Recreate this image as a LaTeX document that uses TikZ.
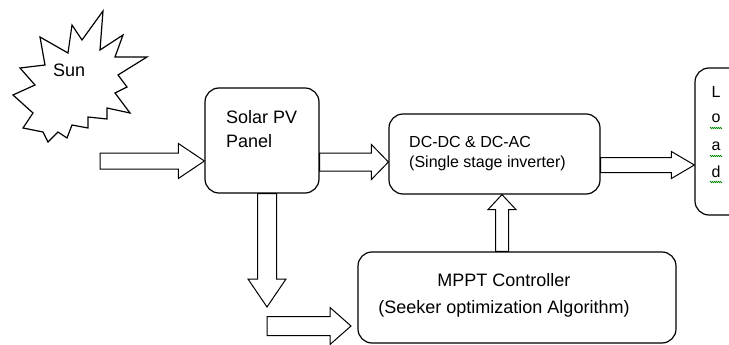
\documentclass[tikz,border=0pt]{standalone}
\usepackage{fontspec}
\setmainfont{Liberation Sans}
\usetikzlibrary{calc,decorations.pathmorphing}
\newcommand\blockarr[5]{% #1 from, #2 to, #3 half shaft, #4 half head, #5 head length
  \coordinate (tmpH) at ($(#2)!#5!(#1)$);
  \draw[barr] ($(#1)!#3!90:(#2)$) -- ($(tmpH)!#3!-90:(#1)$) -- ($(tmpH)!#4!-90:(#1)$)
    -- (#2) -- ($(tmpH)!#4!90:(#1)$) -- ($(tmpH)!#3!90:(#1)$) -- ($(#1)!#3!-90:(#2)$) -- cycle;}
\begin{document}
\begin{tikzpicture}[x=1pt,y=-1pt,
  box/.style={draw=black, line width=1.2pt, rounded corners=14pt, fill=white, inner sep=0pt},
  barr/.style={draw=black, line width=1pt, fill=white, line join=miter},
  txt/.style={inner sep=0pt, font=\fontsize{18}{20}\selectfont},
  txts/.style={inner sep=0pt, font=\fontsize{16}{18}\selectfont},
  squig/.style={draw=green!55!black, line width=0.6pt, decorate,
    decoration={zigzag, segment length=2pt, amplitude=0.7pt}}]
\clip (0,0) rectangle (729,345);
\fill[white] (0,0) rectangle (729,345);

% Sun
\draw[line width=1.2pt, line join=miter, fill=white]
  (103,11) -- (100,50) -- (123,35) -- (115,57) -- (147,57) -- (118,75) -- (127,87)
  -- (115,93) -- (130,113) -- (107,108) -- (107,119) -- (88,117) -- (88,128)
  -- (72,125) -- (67,138) -- (58,132) -- (48,142) -- (43,132) -- (23,128)
  -- (33,113) -- (13,95) -- (35,85) -- (20,68) -- (45,65) -- (40,37) -- (68,53)
  -- (72,25) -- (82,40) -- cycle;
\node[txt, anchor=base west] (sun) at (53,77) {Sun};

% boxes
\node[box, minimum width=114pt, minimum height=105pt] (pv) at (262,140.5) {};
\node[box, minimum width=211pt, minimum height=80pt] (dc) at (494.5,154) {};
\node[box, minimum width=318pt, minimum height=91pt] (mppt) at (517,297.5) {};
\node[box, minimum width=65pt, minimum height=147pt] (load) at (727.5,141.5) {};

% texts
\node[txt, anchor=base west] (pvt1) at (226,124) {Solar PV};
\node[txt, anchor=base west] (pvt2) at (226,147) {Panel};
\node[txts, anchor=base west] (dct1) at (409,147) {DC-DC \& DC-AC};
\node[txts, anchor=base west] (dct2) at (409,167) {(Single stage inverter)};
\node[txt, anchor=base] (mpt1) at (504,286) {MPPT Controller};
\node[txt, anchor=base] (mpt2) at (504,313) {(Seeker optimization Algorithm)};
\node[txts, anchor=base] (lL) at (716,98) {L};
\node[txts, anchor=base] (lo) at (716,123) {o};
\node[txts, anchor=base] (la) at (716,150) {a};
\node[txts, anchor=base] (ld) at (716,177) {d};
\draw[squig] (710,128) -- (722,128);
\draw[squig] (710,156) -- (722,156);
\draw[squig] (710,182) -- (722,182);

% arrow anchors
\coordinate (in1) at (100,161);
\coordinate (a2) at (0,162);
\coordinate (a3) at (0,165);
\coordinate (a4) at (502,0);
\coordinate (a5) at (267,0);
\coordinate (dn) at (267,307);
\coordinate (in6) at (267,326);
\coordinate (tip6) at (351,326);

% block arrows
\blockarr{in1}{in1 -| pv.west}{8pt}{17.5pt}{26pt}
\blockarr{a2 -| pv.east}{a2 -| dc.west}{9pt}{17.5pt}{17pt}
\blockarr{a3 -| dc.east}{a3 -| load.west}{7.5pt}{13.5pt}{23pt}
\blockarr{a4 |- mppt.north}{a4 |- dc.south}{6.5pt}{14pt}{15pt}
\blockarr{a5 |- pv.south}{dn}{9.5pt}{19pt}{28pt}
\blockarr{in6}{tip6}{9.5pt}{18.5pt}{21pt}
\end{tikzpicture}
\end{document}
